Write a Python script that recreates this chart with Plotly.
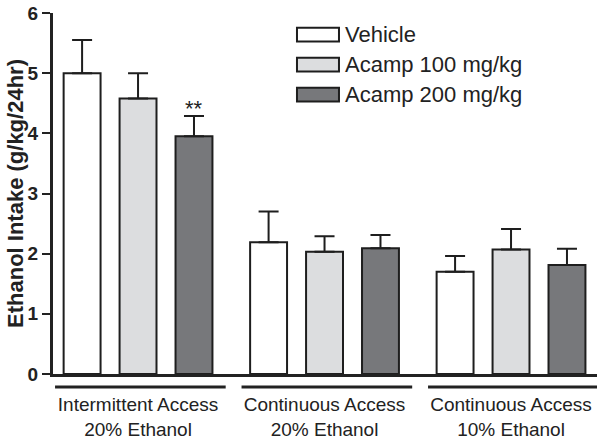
import plotly.graph_objects as go

# ---- data ----
groups = ["Intermittent Access<br>20% Ethanol",
          "Continuous Access<br>20% Ethanol",
          "Continuous Access<br>10% Ethanol"]
series_names = ["Vehicle", "Acamp 100 mg/kg", "Acamp 200 mg/kg"]
vehicle = [5.00, 2.19, 1.70]
acamp100 = [4.58, 2.03, 2.07]
acamp200 = [3.95, 2.09, 1.81]
vehicle_sem = [0.55, 0.51, 0.26]
acamp100_sem = [0.42, 0.26, 0.34]
acamp200_sem = [0.34, 0.22, 0.27]
y_ticks = [0, 1, 2, 3, 4, 5, 6]
y_title = "Ethanol Intake (g/kg/24hr)"
sig_label = "**"

values = [vehicle, acamp100, acamp200]
sems = [vehicle_sem, acamp100_sem, acamp200_sem]
colors = ["#ffffff", "#dcdddf", "#77787b"]
edge = "#1e1e1e"
FONT = "Arial, Liberation Sans, sans-serif"

BARGAP = 0.1
BARGROUPGAP = 0.34

fig = go.Figure()
for name, v, e, c in zip(series_names, values, sems, colors):
    fig.add_trace(go.Bar(
        x=groups, y=v, name=name,
        marker=dict(color=c, line=dict(color=edge, width=2)),
        error_y=dict(type="data", symmetric=False, array=e,
                     arrayminus=[0] * len(e), color=edge,
                     thickness=2, width=10),
        showlegend=False,
    ))

# significance marker above Acamp 200 in first group
slot = (1 - BARGAP) / 3
fig.add_annotation(x=0 + slot, xref="x", y=acamp200[0] + acamp200_sem[0],
                   yref="y", text=sig_label, showarrow=False,
                   yanchor="bottom", yshift=-7,
                   font=dict(family=FONT, size=22, color="#222"))

# y-axis title
fig.add_annotation(x=-0.069, y=0.5, xref="paper", yref="paper",
                   text="<b>" + y_title + "</b>", textangle=-90,
                   showarrow=False, xanchor="center", yanchor="middle",
                   font=dict(family=FONT, size=22, color="#222"))

# group underlines
for i in range(len(groups)):
    fig.add_shape(type="line", xref="x", yref="paper",
                  x0=i - 1.5 * slot + 0.005, x1=i + 1.5 * slot + 0.02,
                  y0=-0.036, y1=-0.036,
                  line=dict(color="#222", width=3))

# custom legend
leg_y = [0.94, 0.857, 0.774]
for name, c, yy in zip(series_names, colors, leg_y):
    fig.add_shape(type="rect", xref="paper", yref="paper",
                  x0=0.4485, x1=0.5257, y0=yy - 0.019, y1=yy + 0.019,
                  fillcolor=c, line=dict(color=edge, width=2))
    fig.add_annotation(x=0.5335, y=yy, xref="paper", yref="paper",
                       text=name, showarrow=False, xanchor="left",
                       yanchor="middle",
                       font=dict(family=FONT, size=22, color="#222"))

fig.update_layout(
    width=604, height=443,
    margin=dict(l=53, r=7, t=13, b=69),
    paper_bgcolor="white", plot_bgcolor="white",
    barmode="group", bargap=BARGAP, bargroupgap=BARGROUPGAP,
    font=dict(family=FONT, color="#222"),
)
fig.update_xaxes(
    range=[-0.456, 2.461], showline=True, linecolor="#222", linewidth=3,
    ticks="", showgrid=False, zeroline=False, automargin=False,
    tickfont=dict(family=FONT, size=19, color="#222"),
    ticklabelstandoff=11,
)
fig.update_yaxes(
    range=[0, 6], tickvals=y_ticks, showline=True, linecolor="#222",
    linewidth=3, ticks="outside", ticklen=8, tickwidth=2, tickcolor="#222",
    showgrid=False, zeroline=False, automargin=False,
    tickfont=dict(family=FONT, size=19, color="#222", weight="bold"),
)

# remove the page's default body margin so the figure fills the window
fig.write_html("out.html",
               config={"displayModeBar": False},
               post_script="document.body.style.margin='0px';"
                           "document.body.style.overflow='hidden';")
